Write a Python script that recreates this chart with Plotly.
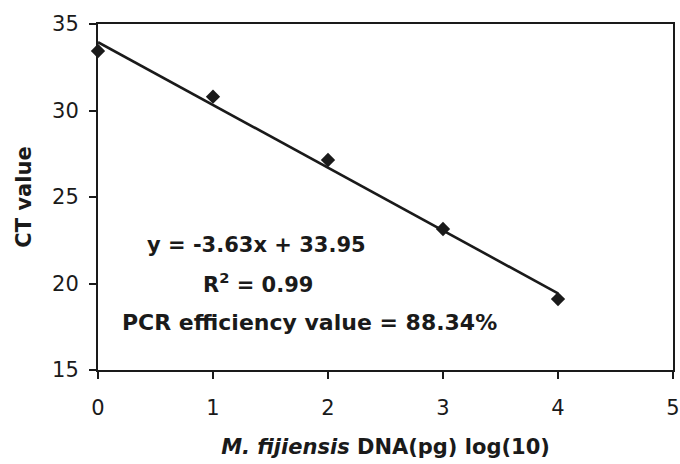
import numpy as np
import plotly.graph_objects as go

# Data
log_dna = [0, 1, 2, 3, 4]
ct_values = [33.44, 30.8, 27.14, 23.15, 19.1]
slope = -3.63
intercept = 33.95
x_ticks = [0, 1, 2, 3, 4, 5]
y_ticks = [15, 20, 25, 30, 35]
eq_lines = ["y = -3.63x + 33.95", "R<sup>2</sup> = 0.99", "PCR efficiency value = 88.34%"]

fit_x = [min(log_dna), max(log_dna)]
fit_y = [intercept + slope * v for v in fit_x]

INK = "#1a1a1a"
FONT = "DejaVu Sans"

fig = go.Figure()
fig.add_trace(go.Scatter(x=fit_x, y=fit_y, mode="lines",
                         line=dict(color=INK, width=2.6), showlegend=False))
fig.add_trace(go.Scatter(x=log_dna, y=ct_values, mode="markers",
                         marker=dict(symbol="diamond", size=11, color=INK),
                         showlegend=False, cliponaxis=False))

ann_pos = [(1.374, 22.23, 21), (1.391, 20.03, 21), (1.835, 17.77, 22)]
for txt, (ax, ay, fs) in zip(eq_lines, ann_pos):
    fig.add_annotation(x=ax, y=ay, text="<b>" + txt + "</b>", showarrow=False,
                       xanchor="center", yanchor="middle",
                       font=dict(family=FONT, size=fs, color=INK))

fig.update_layout(
    width=680, height=464,
    margin=dict(l=98, r=7, t=24, b=94, autoexpand=False),
    paper_bgcolor="white", plot_bgcolor="white",
    font=dict(family=FONT, size=21, color=INK),
)
fig.update_xaxes(range=[0, 5], tickvals=x_ticks, ticks="outside", ticklen=7, tickwidth=2,
                 tickcolor=INK, showline=True, linecolor=INK, linewidth=2, mirror=True,
                 showgrid=False, zeroline=False, automargin=False, ticklabelstandoff=11,
                 tickfont=dict(family=FONT, size=21, color=INK),
                 title=dict(text="<b><i>M. fijiensis</i> DNA(pg) log(10)</b>",
                            font=dict(family=FONT, size=21, color=INK), standoff=20))
fig.update_yaxes(range=[15, 35], tickvals=y_ticks, ticks="outside", ticklen=7, tickwidth=2,
                 tickcolor=INK, showline=True, linecolor=INK, linewidth=2, mirror=True,
                 showgrid=False, zeroline=False, automargin=False, ticklabelstandoff=6,
                 tickfont=dict(family=FONT, size=21, color=INK),
                 title=dict(text="<b>CT value</b>",
                            font=dict(family=FONT, size=21, color=INK), standoff=15))

fig.write_html("out.html")
